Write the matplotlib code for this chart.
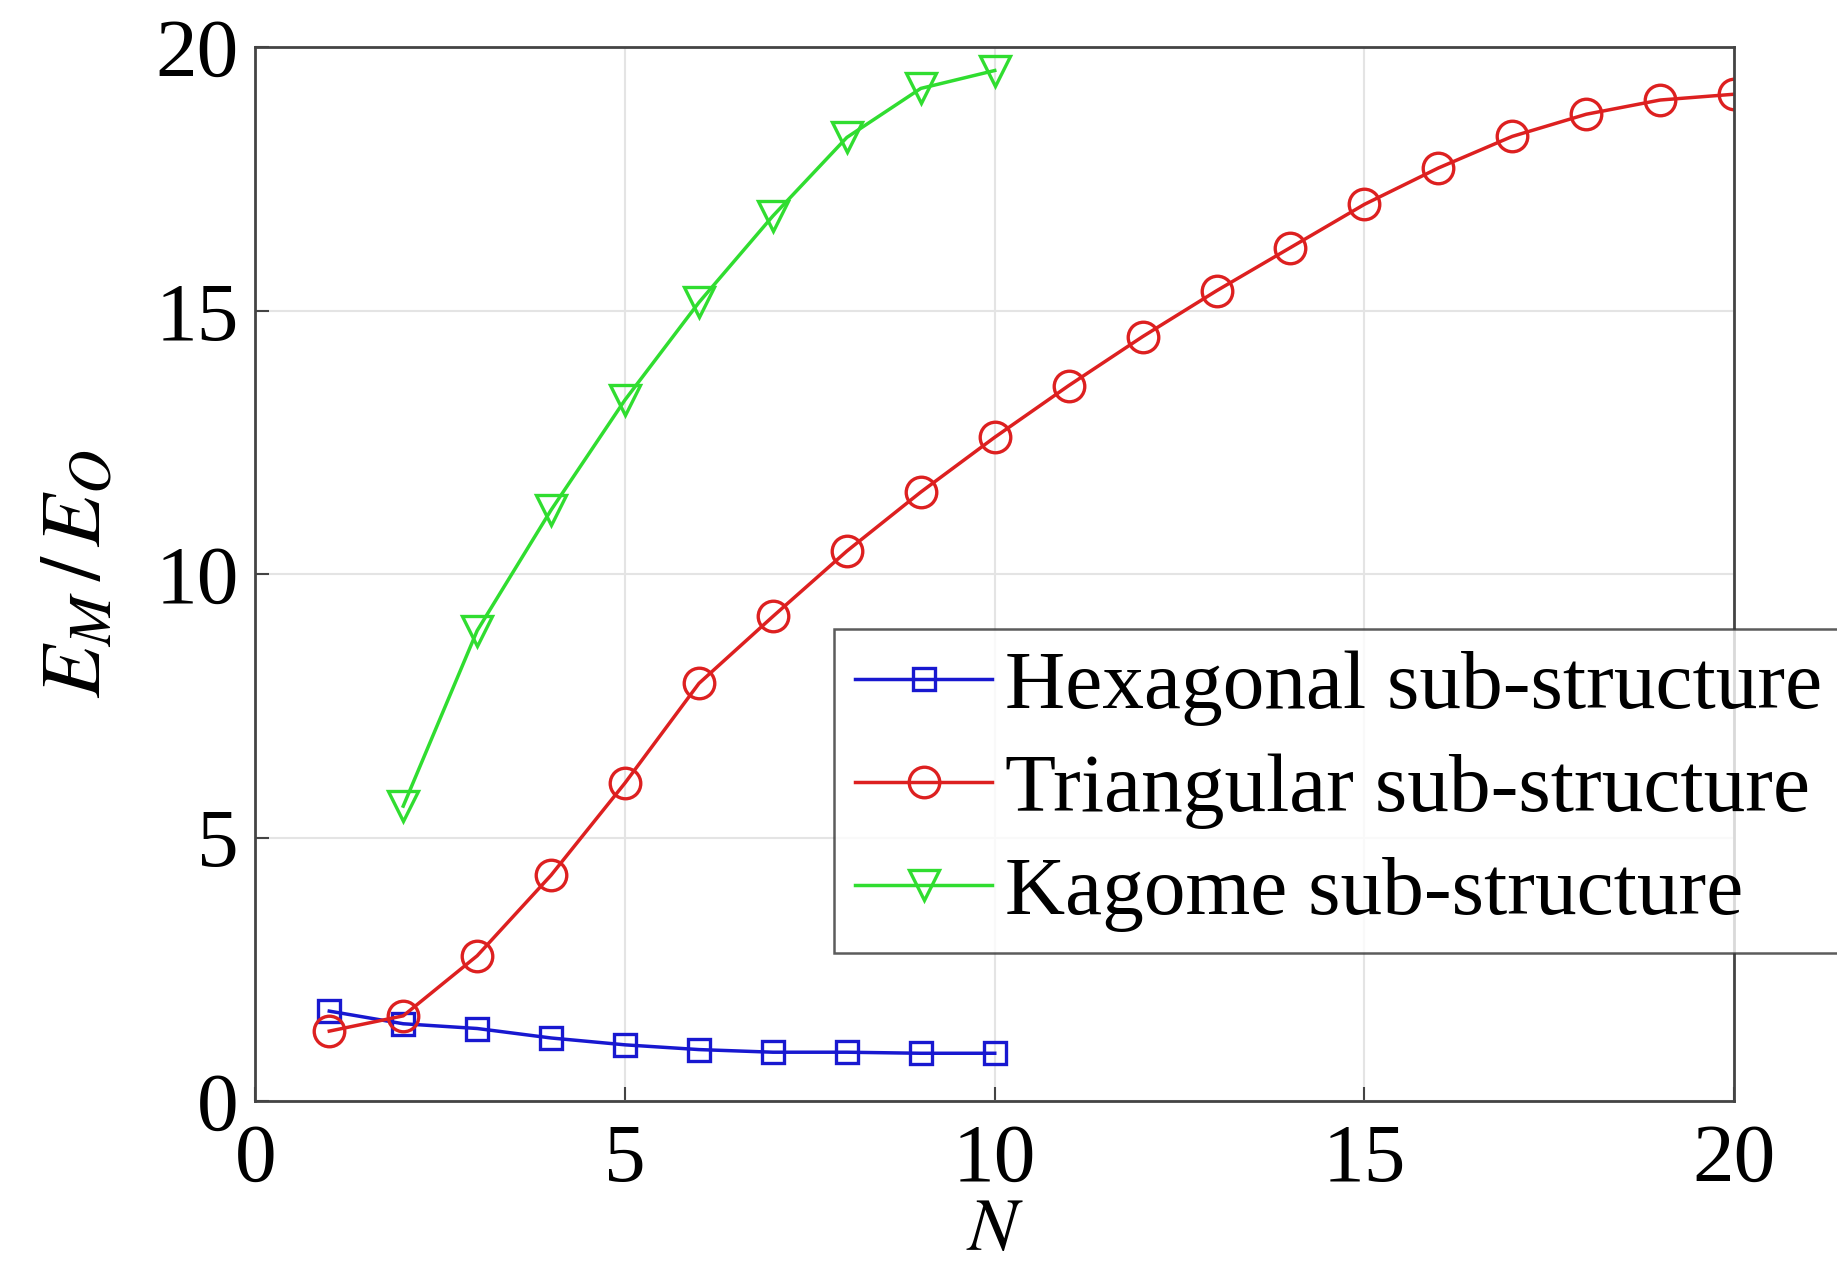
import matplotlib.pyplot as plt

# modulus ratio E_M / E_O against number of layers N
n_hex = [1, 2, 3, 4, 5, 6, 7, 8, 9, 10]
e_hex = [1.71, 1.47, 1.38, 1.20, 1.07, 0.98, 0.93, 0.93, 0.91, 0.91]

n_tri = list(range(1, 21))
e_tri = [1.33, 1.62, 2.76, 4.29, 6.04, 7.93, 9.20, 10.44, 11.56, 12.60,
         13.58, 14.51, 15.38, 16.20, 17.02, 17.71, 18.31, 18.73, 19.00, 19.11]

n_kag = [2, 3, 4, 5, 6, 7, 8, 9, 10]
e_kag = [5.60, 8.93, 11.22, 13.31, 15.16, 16.80, 18.29, 19.22, 19.56]

labels = ["Hexagonal sub-structure", "Triangular sub-structure", "Kagome sub-structure"]

plt.rcParams['font.family'] = ['Liberation Serif', 'DejaVu Serif']
plt.rcParams['mathtext.fontset'] = 'stix'

fig = plt.figure(figsize=(18.37, 12.79), dpi=100)
ax = fig.add_axes([0.139, 0.139, 0.805, 0.824])

lw = 2.5
ax.plot(n_hex, e_hex, color='#1818d0', marker='s', ms=16, mfc='none', mew=2.4, lw=lw, label=labels[0])
ax.plot(n_tri, e_tri, color='#dd2020', marker='o', ms=22, mfc='none', mew=2.4, lw=lw, label=labels[1])
ax.plot(n_kag, e_kag, color='#30dd30', marker='v', ms=22, mfc='none', mew=2.4, lw=lw, label=labels[2])

ax.set_xlim(0, 20)
ax.set_ylim(0, 20)
ax.set_xticks([0, 5, 10, 15, 20])
ax.set_yticks([0, 5, 10, 15, 20])
ax.grid(True, color='#e4e4e4', lw=1.5)
ax.set_axisbelow(True)
ax.tick_params(direction='in', length=10, width=1.5, labelsize=60, color='#444444')
ax.tick_params(axis='x', pad=16)
ax.tick_params(axis='y', pad=12)
for s in ax.spines.values():
    s.set_color('#444444')
    s.set_linewidth(2)

ax.set_xlabel('$N$', fontsize=54, labelpad=0)
ax.set_ylabel('$E_M\\,/\\,E_O$', fontsize=62, labelpad=26)

leg = ax.legend(loc='upper left', bbox_to_anchor=(0.454, 0.508), bbox_transform=fig.transFigure,
                fontsize=60, frameon=True, fancybox=False, edgecolor='#333333',
                handlelength=1.65, handletextpad=0.15, borderpad=0.25, labelspacing=0.32,
                borderaxespad=0)
leg.get_frame().set_linewidth(1.8)

fig.savefig('out.png', dpi=100)
